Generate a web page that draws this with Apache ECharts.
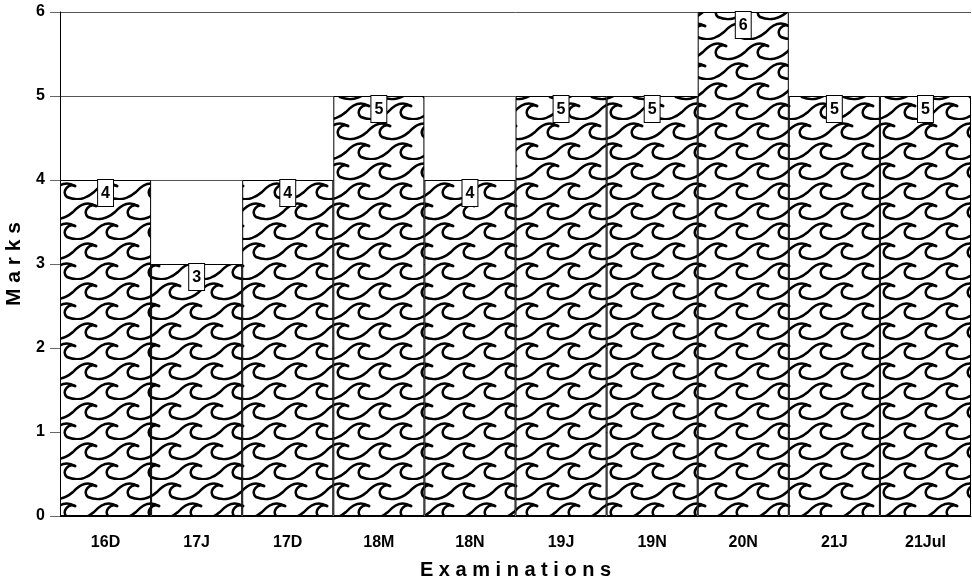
<!DOCTYPE html>
<html>
<head>
<meta charset="utf-8">
<script src="https://cdn.jsdelivr.net/npm/echarts@6/dist/echarts.min.js"></script>
<style>html,body{margin:0;padding:0;background:#fff}#c{width:972px;height:584px}</style>
</head>
<body>
<div id="c"></div>
<script>
const categories = ['16D','17J','17D','18M','18N','19J','19N','20N','21J','21Jul'];
const marks = [4,3,4,5,4,5,5,6,5,5];
const yTicks = [0,1,2,3,4,5,6];

function wavePattern() {
  const W = 42, H = 40;
  const c = document.createElement('canvas');
  c.width = W; c.height = H;
  const g = c.getContext('2d');
  g.fillStyle = '#fff';
  g.fillRect(0,0,W,H);
  g.strokeStyle = '#000';
  g.lineWidth = 2.6;
  g.lineCap = 'round';
  g.lineJoin = 'round';
  function row(y0, shift) {
    for (let k = -2; k <= 2; k++) {
      const x0 = k * W + shift;
      const yt = y0 - 14;
      g.beginPath();
      g.moveTo(x0 + 12, yt + 2);
      g.bezierCurveTo(x0 + 5, yt - 1, x0 - 2, yt + 8, x0 + 4, y0 - 1);
      g.bezierCurveTo(x0 + 13, y0 + 3, x0 + 23, y0 + 1, x0 + 31, y0 - 6);
      g.bezierCurveTo(x0 + 38, yt, x0 + 46, yt - 3, x0 + W + 12, yt + 2);
      g.stroke();
    }
  }
  row(18, 0);
  row(38, 21);
  return c;
}

const chart = echarts.init(document.getElementById('c'));
chart.setOption({
  backgroundColor: '#fff',
  animation: false,
  grid: { left: 60, right: 1, top: 12, bottom: 68, containLabel: false, outerBoundsMode: 'none' },
  xAxis: {
    type: 'category',
    data: categories,
    name: 'E x a m i n a t i o n s',
    nameLocation: 'middle',
    nameGap: 44,
    nameTextStyle: { fontFamily: 'Liberation Sans', fontWeight: 'bold', fontSize: 20, color: '#000' },
    axisLine: { lineStyle: { color: '#000', width: 1 } },
    axisTick: { alignWithLabel: true, length: 10, lineStyle: { color: '#666' } },
    axisLabel: { fontFamily: 'Liberation Sans', fontWeight: 'bold', fontSize: 16, color: '#000', margin: 19 },
    splitLine: { show: false }
  },
  yAxis: {
    type: 'value',
    min: yTicks[0], max: yTicks[yTicks.length-1], interval: 1,
    name: 'M a r k s',
    nameLocation: 'middle',
    nameGap: 30,
    nameRotate: 90,
    nameTextStyle: { fontFamily: 'Liberation Sans', fontWeight: 'bold', fontSize: 21, color: '#000' },
    axisLine: { show: true, lineStyle: { color: '#000', width: 1 } },
    axisTick: { show: true, length: 10, lineStyle: { color: '#666' } },
    axisLabel: { fontFamily: 'Liberation Sans', fontWeight: 'bold', fontSize: 16, color: '#000', margin: 15 },
    splitLine: { show: true, lineStyle: { color: '#555', width: 1 } }
  },
  series: [{
    type: 'bar',
    data: marks,
    barCategoryGap: '0%',
    itemStyle: {
      color: { image: wavePattern(), repeat: 'repeat' },
      borderColor: '#000',
      borderWidth: 1
    },
    label: {
      show: true,
      position: 'insideTop',
      distance: 0,
      fontFamily: 'Liberation Sans',
      fontWeight: 'bold',
      fontSize: 16,
      color: '#000',
      backgroundColor: '#fff',
      borderColor: '#000',
      borderWidth: 1,
      padding: [6, 3, 4, 3]
    }
  }]
});
</script>
</body>
</html>
